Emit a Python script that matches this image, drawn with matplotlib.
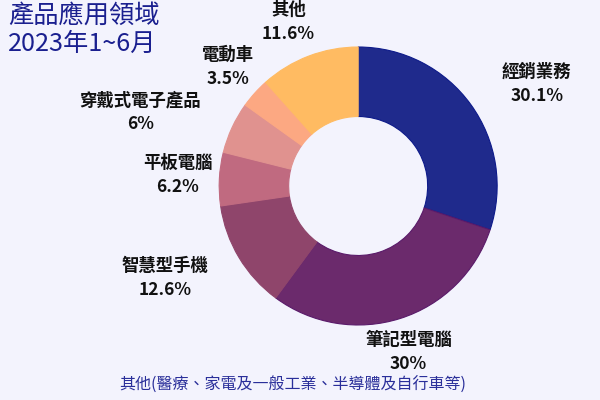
import matplotlib
matplotlib.use("Agg")
import matplotlib.pyplot as plt
import numpy as np

plt.rcParams['font.family'] = ['Noto Sans CJK TC', 'DejaVu Sans']

categories = ['經銷業務', '筆記型電腦', '智慧型手機', '平板電腦', '穿戴式電子產品', '電動車', '其他']
values = [30.1, 30.0, 12.6, 6.2, 6.0, 3.5, 11.6]
value_labels = ['30.1%', '30%', '12.6%', '6.2%', '6%', '3.5%', '11.6%']
colors = ['#1f2a8c', '#6b2a6c', '#8f456b', '#c06a80', '#e0928f', '#fca882', '#ffbb62']
edgecolors = ['#0d1a8a', '#5a1a6a', '#8f456b', '#c06a80', '#e0928f', '#fca882', '#ffbb62']
label_dist = [1.48, 1.25, 1.54, 1.30, 1.656, 1.27, 1.28]
label_angle_adj = [-6, -0.8, -5.5, -0.6, 6.1, -0.5, 2.2]

bg = '#f3f3fd'
fig = plt.figure(figsize=(6, 4), dpi=100, facecolor=bg)
ax = fig.add_axes([0.597 - 0.2317, 0.535 - 0.3475, 0.4633, 0.695])
ax.set_facecolor(bg)

wedges, _ = ax.pie(values, colors=colors, startangle=90, counterclock=False,
                   radius=1.0, wedgeprops=dict(width=0.5, linewidth=0.8))
for w, ec in zip(wedges, edgecolors):
    w.set_edgecolor(ec)
ax.set_xlim(-1, 1)
ax.set_ylim(-1, 1)
ax.set_aspect('equal')
ax.axis('off')

for w, cat, vl, d, adj in zip(wedges, categories, value_labels, label_dist, label_angle_adj):
    ang = np.deg2rad((w.theta1 + w.theta2) / 2 + adj)
    x, y = d * np.cos(ang), d * np.sin(ang)
    ax.text(x, y + 0.087, cat, ha='center', va='center', fontsize=12.5,
            fontweight='bold', color='#111111', clip_on=False)
    ax.text(x, y - 0.087, vl, ha='center', va='center', fontsize=12.5,
            fontweight='bold', color='#111111', clip_on=False)

fig.text(0.013, 0.962, '產品應用領域', ha='left', va='center', fontsize=18.2, color='#1a1f8f')
fig.text(0.013, 0.89, '2023年1~6月', ha='left', va='center', fontsize=18.2, color='#1a1f8f')
fig.text(0.488, 0.037, '其他(醫療、家電及一般工業、半導體及自行車等)', ha='center', va='center',
         fontsize=11.5, color='#2a2f9a')

fig.savefig('out.png', dpi=100, facecolor=bg)
